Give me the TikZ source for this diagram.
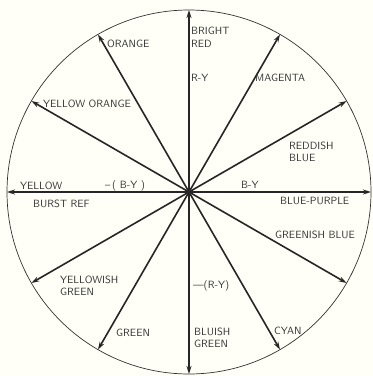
\documentclass[tikz,border=0pt]{standalone}
\usepackage{tikz}
\usetikzlibrary{arrows.meta, positioning, calc}

\begin{document}
\begin{tikzpicture}[x=1pt, y=1pt,
    vec/.style={line width=1.6pt, draw=black!85, -{Stealth[length=8pt,width=5pt]}},
    lbl/.style={font=\sffamily\fontsize{10.5}{12.5}\selectfont, text=black!80, inner sep=0pt, anchor=west, align=left}]
    \useasboundingbox[fill=white!97!yellow] (-189,-184) rectangle (184,192);
    \coordinate (O) at (0,0);
    \draw[line width=0.7pt, black!80] (O) circle (182);
    % tips of the colour vectors, every 30 degrees
    \foreach \a/\n in {0/BP,30/RB,60/MG,90/BR,120/OR,150/YO,180/YL,210/YG,240/GR,270/BG,300/CY,330/GB}
        \coordinate (\n) at (\a:182);
    \foreach \n in {BP,RB,MG,BR,OR,YO,YL,YG,GR,BG,CY,GB}
        \draw[vec] (O) -- (\n);
    \fill[black!85] (O) circle (3);
    % labels
    \node[lbl, anchor=north west] (tBR) at (2,165) {BRIGHT\\RED};
    \node[lbl] (tRY) at (2,114) {R-Y};
    \node[lbl] (tMG) at (66,114) {MAGENTA};
    \node[lbl] (tRB) at (100,40) {REDDISH\\BLUE};
    \node[lbl] (tBY) at (52,7) {B-Y};
    \node[lbl] (tBP) at (91,-9) {BLUE-PURPLE};
    \node[lbl] (tGB) at (86,-43) {GREENISH BLUE};
    \node[lbl] (tCY) at (85,-139) {CYAN};
    \node[lbl] (tBG) at (5,-146) {BLUISH\\GREEN};
    \node[lbl] (tmRY) at (4,-94) {\textemdash(R-Y)};
    \node[lbl] (tGR) at (-73,-141) {GREEN};
    \node[lbl] (tYG) at (-129,-94) {YELLOWISH\\GREEN};
    \node[lbl] (tYL) at (-169,6) {YELLOW};
    \node[lbl] (tmBY) at (-84,6) {\textendash\,( B-Y )};
    \node[lbl] (tBU) at (-156,-12) {BURST REF};
    \node[lbl] (tYO) at (-146,88) {YELLOW ORANGE};
    \node[lbl] (tOR) at (-82,148) {ORANGE};
\end{tikzpicture}
\end{document}
